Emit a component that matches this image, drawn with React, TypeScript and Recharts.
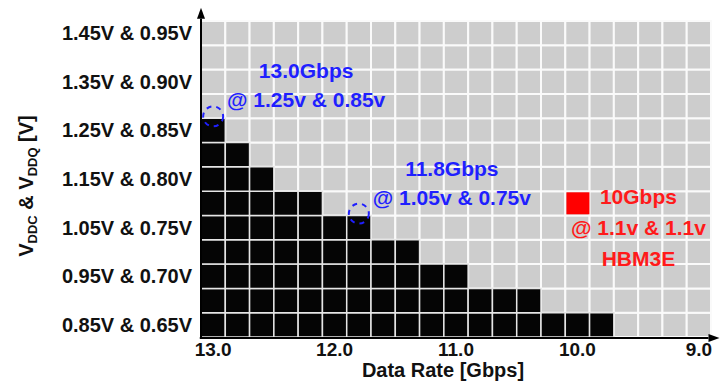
import {
  Label,
  ReferenceArea,
  ReferenceLine,
  Scatter,
  ScatterChart,
  XAxis,
  YAxis,
} from "recharts";

// shmoo grid: data rate columns (Gbps) and VDDC rows (V)
const dataRates = [
  13.0, 12.8, 12.6, 12.4, 12.2, 12.0, 11.8, 11.6, 11.4, 11.2, 11.0, 10.8, 10.6, 10.4, 10.2, 10.0,
  9.8, 9.6, 9.4, 9.2, 9.0,
];
const vddcLevels = [0.85, 0.9, 0.95, 1.0, 1.05, 1.1, 1.15, 1.2, 1.25, 1.3, 1.35, 1.4, 1.45];
// lowest data rate drawn black on each VDDC row (null = none on that row)
const blackDownTo = [9.8, 10.4, 11.0, 11.4, 11.8, 12.2, 12.6, 12.8, 13.0, null, null, null, null];

const yTicks = [0.85, 0.95, 1.05, 1.15, 1.25, 1.35, 1.45];
const yTickLabels = [
  "0.85V & 0.65V",
  "0.95V & 0.70V",
  "1.05V & 0.75V",
  "1.15V & 0.80V",
  "1.25V & 0.85V",
  "1.35V & 0.90V",
  "1.45V & 0.95V",
];
const xTicks = [13, 12, 11, 10, 9];

const circledRates = [13.0, 11.8];
const circledLevels = [1.25, 1.05];
const circledNotes = [
  ["13.0Gbps", "@ 1.25v & 0.85v"],
  ["11.8Gbps", "@ 1.05v & 0.75v"],
];

const hbmRates = [10.0];
const hbmLevels = [1.1];
const hbmNote = ["10Gbps", "@ 1.1v & 1.1v", "HBM3E"];

const FONT = "'Liberation Sans', Arial, Helvetica, sans-serif";
const BLUE = "#1f1fff";
const RED = "#ff1a1a";
const RATE_STEP = 0.2;
const LEVEL_STEP = 0.05;

const circled = circledRates.map((rate, i) => ({ rate, level: circledLevels[i], note: circledNotes[i] }));
const hbm = hbmRates.map((rate, i) => ({ rate, level: hbmLevels[i], note: hbmNote }));

const cells = vddcLevels.flatMap((level, row) =>
  dataRates.map((rate) => {
    const limit = blackDownTo[row];
    return { rate, level, black: limit != null && rate >= limit - 1e-9 };
  }),
);

function CircleMark(props: any) {
  const { cx, cy, payload } = props;
  const top = cy - 14;
  return (
    <g>
      <circle cx={cx} cy={top} r={10} fill="none" stroke={BLUE} strokeWidth={2} strokeDasharray="5 5" />
      {payload.note.map((line: string, i: number) => (
        <text
          key={line}
          x={cx + 93}
          y={top - 38 + i * 29}
          textAnchor="middle"
          fill={BLUE}
          fontFamily={FONT}
          fontWeight="bold"
          fontSize={21}
        >
          {line}
        </text>
      ))}
    </g>
  );
}

function HbmMark(props: any) {
  const { cx, cy, payload } = props;
  return (
    <g>
      <rect x={cx - 11} y={cy - 11} width={23} height={22} fill="#ff0000" />
      {payload.note.map((line: string, i: number) => (
        <text
          key={line}
          x={cx + 61}
          y={cy + 1 + i * 31}
          textAnchor="middle"
          fill={RED}
          fontFamily={FONT}
          fontWeight="bold"
          fontSize={21}
        >
          {line}
        </text>
      ))}
    </g>
  );
}

function ArrowLine(props: any) {
  const { x1, y1, x2, y2 } = props;
  const dx = x2 - x1;
  const dy = y2 - y1;
  const len = Math.hypot(dx, dy) || 1;
  const ux = dx / len;
  const uy = dy / len;
  const bx = x2 - ux * 11;
  const by = y2 - uy * 11;
  return (
    <g>
      <line x1={x1} y1={y1} x2={bx} y2={by} stroke="#000" strokeWidth={2} />
      <polygon
        points={`${x2},${y2} ${bx - uy * 4},${by + ux * 4} ${bx + uy * 4},${by - ux * 4}`}
        fill="#000"
      />
    </g>
  );
}

function YTitle() {
  return (
    <text
      x={33}
      y={186}
      transform="rotate(-90, 33, 186)"
      textAnchor="middle"
      fontFamily={FONT}
      fontWeight="bold"
      fontSize={20}
      fill="#111"
    >
      V
      <tspan fontSize={13} dy={4}>DDC</tspan>
      <tspan dy={-4}> &amp; V</tspan>
      <tspan fontSize={13} dy={4}>DDQ</tspan>
      <tspan dy={-4}> [V]</tspan>
    </text>
  );
}

export default function App() {
  return (
    <div style={{ position: "absolute", left: 0, top: 0, width: 723, height: 381, background: "#fff" }}>
      <ScatterChart width={723} height={381} margin={{ top: 21, right: 12, bottom: 0, left: 0 }}>
        <XAxis
          type="number"
          dataKey="rate"
          domain={[8.9, 13.1]}
          allowDataOverflow
          reversed
          ticks={xTicks}
          tickFormatter={(v: number) => v.toFixed(1)}
          height={44}
          axisLine={false}
          tickLine={false}
          tickMargin={0}
          tick={{ fill: "#111", fontSize: 19, fontWeight: "bold", fontFamily: FONT }}
        >
          <Label
            value="Data Rate [Gbps]"
            position="insideBottom"
            offset={4}
            dx={-13}
            fill="#111"
            fontSize={20}
            fontWeight="bold"
            fontFamily={FONT}
          />
        </XAxis>
        <YAxis
          type="number"
          dataKey="level"
          domain={[0.825, 1.475]}
          allowDataOverflow
          ticks={yTicks}
          tickFormatter={(v: number) => yTickLabels[yTicks.findIndex((t) => Math.abs(t - v) < 1e-6)]}
          width={201}
          axisLine={false}
          tickLine={false}
          tickMargin={3}
          tick={{ fill: "#111", fontSize: 20, fontWeight: "bold", fontFamily: FONT }}
        >
          <Label content={() => <YTitle />} />
        </YAxis>
        {cells
          .filter((c) => !c.black)
          .map((c) => (
            <ReferenceArea
              key={`g-${c.rate}-${c.level}`}
              x1={c.rate - RATE_STEP / 2}
              x2={c.rate + RATE_STEP / 2}
              y1={c.level - LEVEL_STEP / 2}
              y2={c.level + LEVEL_STEP / 2}
              fill="#cdcdcd"
              fillOpacity={1}
              stroke="#fafafa"
              strokeWidth={2}
              ifOverflow="visible"
            />
          ))}
        {cells
          .filter((c) => c.black)
          .map((c) => (
            <ReferenceArea
              key={`b-${c.rate}-${c.level}`}
              x1={c.rate - RATE_STEP / 2}
              x2={c.rate + RATE_STEP / 2}
              y1={c.level - LEVEL_STEP / 2}
              y2={c.level + LEVEL_STEP / 2}
              fill="#050505"
              fillOpacity={1}
              stroke="#e6e6e6"
              strokeWidth={1.5}
              ifOverflow="visible"
            />
          ))}
        <ReferenceLine
          segment={[
            { x: 13.1, y: 0.823 },
            { x: 13.1, y: 1.502 },
          ]}
          ifOverflow="visible"
          shape={ArrowLine}
        />
        <ReferenceLine
          segment={[
            { x: 13.11, y: 0.823 },
            { x: 8.83, y: 0.823 },
          ]}
          ifOverflow="visible"
          shape={ArrowLine}
        />
        <Scatter data={circled} isAnimationActive={false} shape={CircleMark} />
        <Scatter data={hbm} isAnimationActive={false} shape={HbmMark} />
      </ScatterChart>
    </div>
  );
}
